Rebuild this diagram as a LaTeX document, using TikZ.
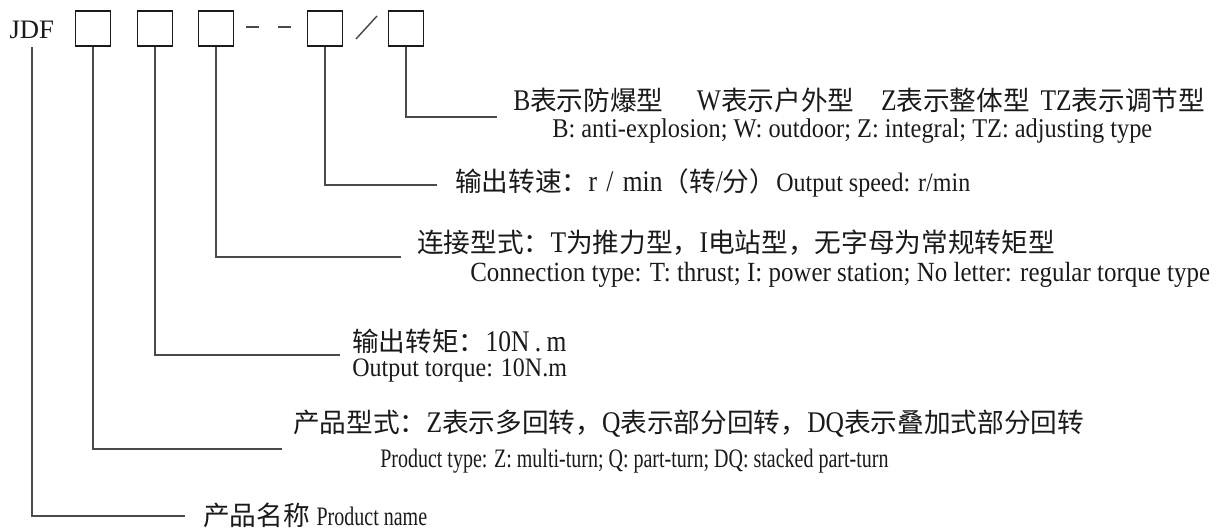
\documentclass[tikz,border=0pt]{standalone}
\usepackage{fontspec}
\setmainfont[FakeStretch=0.85]{Liberation Serif}
\newfontfamily\cjk{Noto Sans CJK SC}
\newfontfamily\enf[FakeStretch=0.9]{Liberation Serif}
\newfontfamily\enc[FakeStretch=0.75]{Liberation Serif}
\newfontfamily\enplain{Liberation Serif}
\newcommand\lat[1]{{\rmfamily\fontsize{22.5}{24}\selectfont #1}}
\definecolor{ink}{HTML}{1A1A1A}
\definecolor{wire}{HTML}{4A4A4A}
\tikzset{
  codebox/.style={draw=ink, line width=1.4pt, minimum width=26.25pt, minimum height=26.25pt, inner sep=0pt},
  conn/.style={draw=wire, line width=1.1pt},
  cnlabel/.style={anchor=west, inner sep=0pt, text=ink, font=\cjk\fontsize{20}{24}\selectfont},
  enlabel/.style={anchor=west, inner sep=0pt, text=ink, font=\enf\fontsize{20}{24}\selectfont},
}
\begin{document}
\begin{tikzpicture}[x=0.75pt,y=-0.75pt]
\useasboundingbox (0,0) rectangle (1218,529);
% top code row
\node[anchor=base west, inner sep=1pt, text=ink, font=\enplain\fontsize{20}{24}\selectfont] (jdf) at (8,38) {JDF};
\node[codebox] (b1) at (93,28.5) {};
\node[codebox] (b2) at (155,28.5) {};
\node[codebox] (b3) at (216,28.5) {};
\node[codebox] (b4) at (325,28.5) {};
\node[codebox] (b5) at (406,28.5) {};
\draw[conn] (246,27) -- (259,27);
\draw[conn] (278,27) -- (291,27);
\draw[conn] (356,39) -- (377,16);
% line end coordinates
\coordinate (e5) at (497,117);
\coordinate (e4) at (437,185);
\coordinate (e3) at (401,257);
\coordinate (e2) at (340,355);
\coordinate (e1) at (282,449);
\coordinate (e0) at (185,516);
\coordinate (j0) at (32,47);
% connectors
\draw[conn] (b5.south) |- (e5);
\draw[conn] (b4.south) |- (e4);
\draw[conn] (b3.south) |- (e3);
\draw[conn] (b2.south) |- (e2);
\draw[conn] (b1.south) |- (e1);
\draw[conn] (j0) |- (e0);
% labels
\node[cnlabel] (t5cn) at (513,100) {\lat{B}表示防爆型\hspace{25pt}\lat{W}表示户外型\hspace{20pt}\lat{Z}表示整体型\hspace{8pt}\lat{TZ}表示调节型};
\node[enlabel, font=\enf\fontsize{20.3}{24}\selectfont] (t5en) at (552,131) {B: anti-explosion; W: outdoor; Z: integral; TZ: adjusting type};
\node[cnlabel] (t4) at (455,183) {输出转速：\lat{r\hspace{7pt}/\hspace{7pt}min}（转\lat{/}分）{\enf\fontsize{20}{24}\selectfont Output speed: r/min}};
\node[cnlabel] (t3cn) at (417,243) {连接型式：\lat{T}为推力型，\lat{I}电站型，无字母为常规转矩型};
\node[enlabel, font=\enf\fontsize{20.8}{24}\selectfont] (t3en) at (470,275) {Connection type: T: thrust; I: power station; No letter: regular torque type};
\node[cnlabel] (t2cn) at (352,341) {输出转矩：\lat{10N\hspace{4pt}.\hspace{4pt}m}};
\node[enlabel] (t2en) at (352,370) {Output torque: 10N.m};
\node[cnlabel] (t1cn) at (293,424) {产品型式：\lat{Z}表示多回转，\lat{Q}表示部分回转，\lat{DQ}表示叠加式部分回转};
\node[enlabel, font=\enc\fontsize{20}{22}\selectfont] (t1en) at (380,461) {Product type: Z: multi-turn; Q: part-turn; DQ: stacked part-turn};
\node[cnlabel] (t0) at (203,515) {产品名称\hspace{5pt}{\enc\fontsize{20}{22}\selectfont Product name}};
\end{tikzpicture}
\end{document}
